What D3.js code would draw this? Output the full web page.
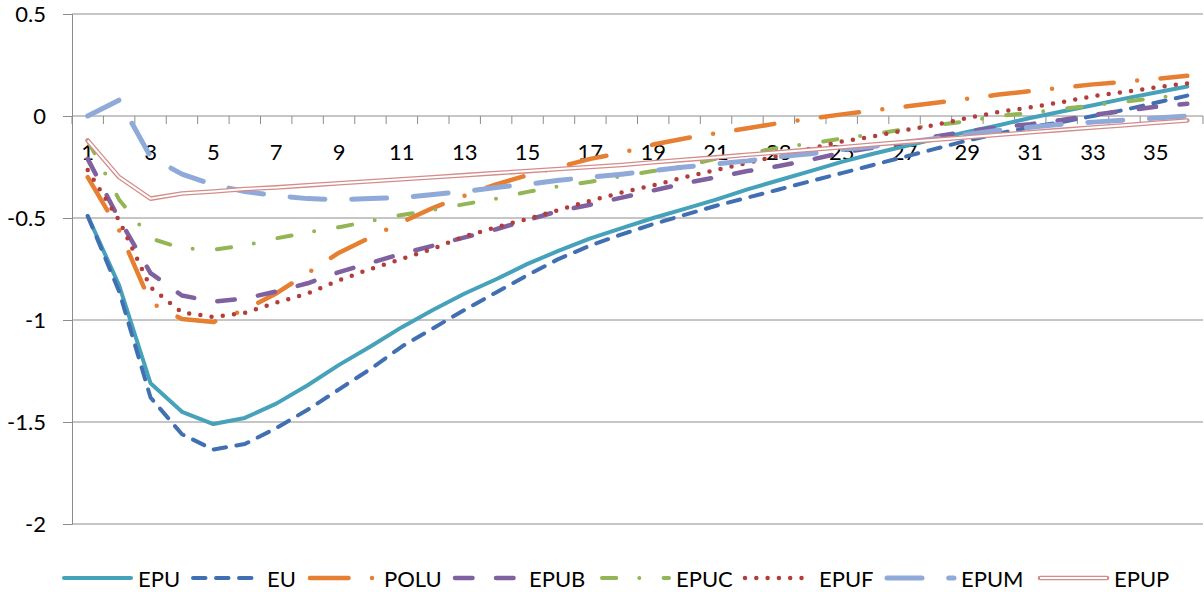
<!DOCTYPE html>
<html>
<head>
<meta charset="utf-8">
<script src="https://cdn.jsdelivr.net/npm/d3@7"></script>
<style>
  html, body { margin: 0; padding: 0; background: #fff; }
  svg { display: block; }
  text { font-family: Lato, "Open Sans", sans-serif; fill: #000; }
</style>
</head>
<body>
<svg id="chart" width="1204" height="592"></svg>
<script>
// ---------------- data ----------------
const categories = d3.range(1, 37);
const seriesNames = ["EPU", "EU", "POLU", "EPUB", "EPUC", "EPUF", "EPUM", "EPUP"];
const yTicks = [-2, -1.5, -1, -0.5, 0, 0.5];

const EPU  = [-0.49,-0.83,-1.31,-1.45,-1.51,-1.48,-1.41,-1.32,-1.22,-1.13,-1.035,-0.95,-0.87,-0.80,-0.725,-0.66,-0.60,-0.55,-0.50,-0.455,-0.41,-0.36,-0.315,-0.27,-0.225,-0.185,-0.148,-0.112,-0.078,-0.045,-0.01,0.022,0.053,0.085,0.115,0.145];
const EU   = [-0.49,-0.86,-1.38,-1.56,-1.635,-1.608,-1.53,-1.44,-1.34,-1.24,-1.13,-1.04,-0.95,-0.865,-0.78,-0.70,-0.635,-0.58,-0.53,-0.485,-0.44,-0.40,-0.36,-0.32,-0.28,-0.24,-0.20,-0.16,-0.12,-0.085,-0.055,-0.03,0.0,0.03,0.065,0.10];
const POLU = [-0.30,-0.56,-0.915,-0.995,-1.01,-0.95,-0.87,-0.77,-0.67,-0.595,-0.52,-0.45,-0.39,-0.335,-0.29,-0.25,-0.21,-0.18,-0.14,-0.11,-0.085,-0.06,-0.035,-0.013,0.008,0.027,0.046,0.065,0.085,0.105,0.122,0.138,0.155,0.168,0.182,0.197];
const EPUB = [-0.21,-0.505,-0.77,-0.88,-0.91,-0.895,-0.86,-0.82,-0.765,-0.72,-0.675,-0.635,-0.595,-0.555,-0.51,-0.465,-0.435,-0.40,-0.365,-0.33,-0.30,-0.27,-0.245,-0.215,-0.18,-0.155,-0.13,-0.10,-0.075,-0.055,-0.04,-0.02,0.005,0.025,0.045,0.06];
const EPUC = [-0.12,-0.41,-0.60,-0.648,-0.655,-0.635,-0.60,-0.57,-0.545,-0.515,-0.485,-0.46,-0.432,-0.405,-0.372,-0.345,-0.322,-0.295,-0.27,-0.245,-0.21,-0.185,-0.155,-0.135,-0.11,-0.09,-0.065,-0.045,-0.025,0.0,0.015,0.035,0.052,0.07,0.088,0.107];
const EPUF = [-0.265,-0.512,-0.84,-0.963,-0.985,-0.965,-0.915,-0.87,-0.805,-0.75,-0.70,-0.65,-0.59,-0.545,-0.505,-0.46,-0.415,-0.375,-0.34,-0.30,-0.265,-0.23,-0.195,-0.16,-0.125,-0.10,-0.07,-0.043,-0.01,0.02,0.042,0.068,0.097,0.118,0.14,0.16];
const EPUM = [0.0,0.078,-0.20,-0.285,-0.337,-0.37,-0.39,-0.405,-0.41,-0.405,-0.40,-0.385,-0.37,-0.35,-0.335,-0.315,-0.30,-0.285,-0.268,-0.25,-0.235,-0.22,-0.20,-0.185,-0.165,-0.15,-0.13,-0.11,-0.09,-0.07,-0.055,-0.04,-0.03,-0.02,-0.01,0.0];
const EPUP = [-0.12,-0.30,-0.405,-0.38,-0.37,-0.358,-0.35,-0.34,-0.33,-0.32,-0.31,-0.30,-0.29,-0.28,-0.27,-0.26,-0.25,-0.24,-0.227,-0.215,-0.203,-0.19,-0.178,-0.165,-0.153,-0.14,-0.128,-0.116,-0.104,-0.092,-0.08,-0.068,-0.056,-0.045,-0.033,-0.022];

const seriesValues = [EPU, EU, POLU, EPUB, EPUC, EPUF, EPUM, EPUP];

// ---------------- styles ----------------
const styles = {
  EPU:  { color: "#45A2BA", width: 4,   dash: null },
  EU:   { color: "#4170B2", width: 4,   dash: "12.5,10.5" },
  POLU: { color: "#E67F32", width: 4.5, dash: "38.5,23.5,0,23.5" },
  EPUB: { color: "#7F60A0", width: 4.5, dash: "17.5,23.5" },
  EPUC: { color: "#92B555", width: 4,   dash: "14.3,23,0,24.3" },
  EPUF: { color: "#B33D3A", width: 4.5, dash: "0,11.3" },
  EPUM: { color: "#8FAAD9", width: 5,   dash: "35,26.7" },
  EPUP: { color: "#D48C8B", width: 4.6, dash: null, double: true }
};

// ---------------- layout ----------------
const plotL = 72, plotR = 1203, plotT = 14, plotB = 524;
const fontSize = "22px";
const svg = d3.select("#chart");

const x = d3.scaleBand().domain(categories).range([plotL, plotR]).padding(0);
const y = d3.scaleLinear().domain([-2, 0.5]).range([plotB, plotT]);
const cx = c => x(c) + x.bandwidth() / 2;

// gridlines + y ticks
const yAxis = d3.axisLeft(y)
  .tickValues(yTicks)
  .tickSize(9)
  .tickPadding(17)
  .tickFormat(d => String(d));
const gY = svg.append("g").attr("transform", `translate(${plotL},0)`).call(yAxis);
gY.select(".domain").attr("stroke", "#8C8C8C").attr("stroke-width", 1);
gY.selectAll(".tick line").attr("stroke", "#8C8C8C");
gY.selectAll(".tick text").style("font-size", fontSize).style("font-family", "Lato, sans-serif").attr("fill", "#000").attr("dy", "0.36em");

svg.append("g").selectAll("line").data(yTicks.filter(d => d !== 0)).join("line")
  .attr("x1", plotL).attr("x2", plotR)
  .attr("y1", d => y(d)).attr("y2", d => y(d))
  .attr("stroke", "#8C8C8C").attr("stroke-width", 1);

// category axis crossing at 0
const gX = svg.append("g").attr("transform", `translate(0,${y(0)})`);
gX.append("line").attr("x1", plotL).attr("x2", plotR).attr("y1", 0).attr("y2", 0)
  .attr("stroke", "#8C8C8C").attr("stroke-width", 1);
const boundaries = categories.map(c => x(c)).concat([plotR]);
gX.selectAll("line.tk").data(boundaries).join("line").attr("class", "tk")
  .attr("x1", d => d).attr("x2", d => d).attr("y1", 0).attr("y2", 8)
  .attr("stroke", "#8C8C8C").attr("stroke-width", 1);
gX.selectAll("text").data(categories.filter(c => c % 2 === 1)).join("text")
  .attr("x", d => cx(d)).attr("y", 35)
  .attr("text-anchor", "middle").attr("dominant-baseline", "central")
  .style("font-size", fontSize)
  .text(d => d);

// series
const line = d3.line().x((d, i) => cx(categories[i])).y(d => y(d));
const gS = svg.append("g");
seriesNames.forEach((name, k) => {
  const st = styles[name];
  const vals = seriesValues[k];
  const p = gS.append("path").datum(vals).attr("d", line)
    .attr("fill", "none").attr("stroke", st.color).attr("stroke-width", st.width)
    .attr("stroke-linecap", "round").attr("stroke-linejoin", "round");
  if (st.dash) p.attr("stroke-dasharray", st.dash);
  if (st.double) {
    gS.append("path").datum(vals).attr("d", line)
      .attr("fill", "none").attr("stroke", "#fff").attr("stroke-width", 2)
      .attr("stroke-linejoin", "round");
  }
});

// legend
const legendX = [62, 191, 308, 453, 600, 743, 885, 1038];
const legendY = 578;
const gL = svg.append("g");
seriesNames.forEach((name, k) => {
  const st = styles[name];
  const x0 = legendX[k];
  const l = gL.append("line").attr("x1", x0 + 2).attr("x2", x0 + 69)
    .attr("y1", legendY).attr("y2", legendY)
    .attr("stroke", st.color).attr("stroke-width", st.width)
    .attr("stroke-linecap", "round");
  if (st.dash) l.attr("stroke-dasharray", st.dash);
  if (st.double) {
    gL.append("line").attr("x1", x0 + 2).attr("x2", x0 + 69)
      .attr("y1", legendY).attr("y2", legendY)
      .attr("stroke", "#fff").attr("stroke-width", 2);
  }
  gL.append("text").attr("x", x0 + 76).attr("y", legendY)
    .attr("dominant-baseline", "central").style("font-size", fontSize).text(name);
});
</script>
</body>
</html>
